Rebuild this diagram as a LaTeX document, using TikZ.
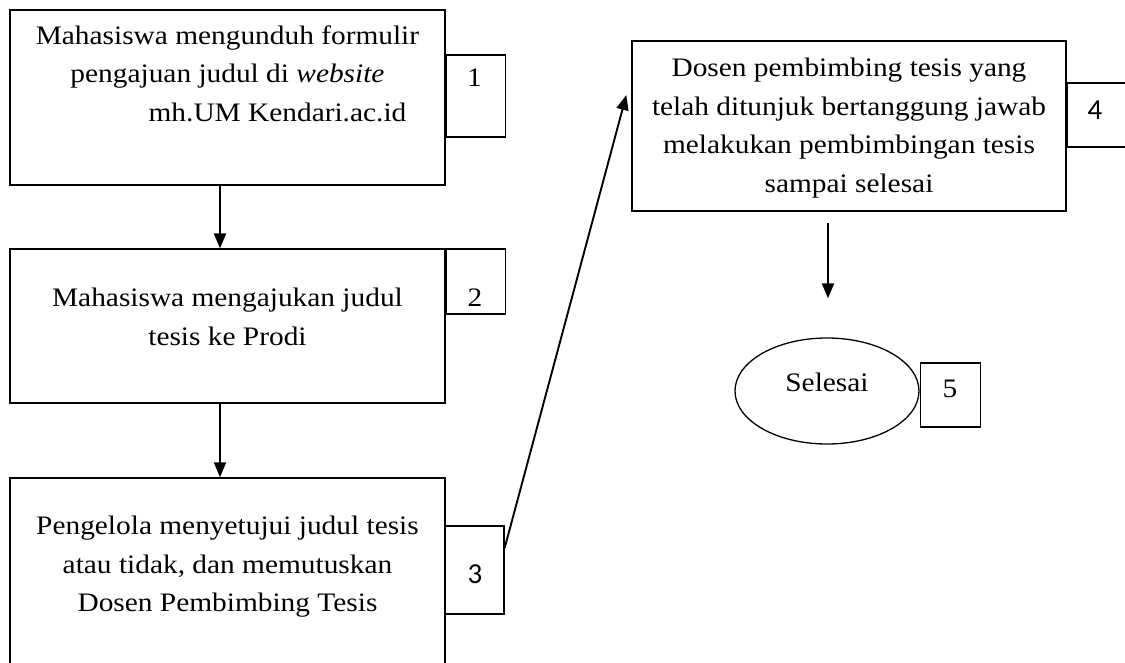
\documentclass[tikz,border=0pt]{standalone}
\usepackage{fontspec}
\setmainfont{Liberation Serif}[FakeStretch=1.1]
\newfontfamily\numfont{Carlito}
\usetikzlibrary{positioning,shapes.geometric,arrows.meta,calc}

\begin{document}
\begin{tikzpicture}[
        x=1pt, y=-1pt,
        font=\fontsize{26.7}{38.5}\selectfont,
        stepbox/.style={draw, line width=1.3pt, minimum width=435pt, inner sep=0pt},
        numbox/.style={draw, line width=1.3pt, minimum width=59pt, inner sep=0pt},
        txt/.style={align=center, inner sep=0pt, anchor=north},
        sansnum/.style={inner sep=0pt, font=\numfont\fontsize{29}{32}\selectfont},
        arr/.style={-{Triangle[length=15pt,width=12pt]}, line width=1.9pt},
    ]
        \clip (0,0) rectangle (1125,662);

        \node[stepbox, minimum height=175pt] (b1) at (227.5,97.5) {};
        \node[txt] (t1) at (227.5,25) {Mahasiswa mengunduh formulir\\
            pengajuan judul di \textit{website}\\
            \hspace*{100pt}mh.UM Kendari.ac.id};
        \node[numbox, minimum height=82pt, right=0pt of b1, yshift=1.5pt] (n1) {};
        \node[inner sep=0pt] (d1) at (474.5,78) {1};

        \node[stepbox, minimum height=154pt] (b2) at (227.5,326) {};
        \node[txt] (t2) at (227.5,288) {Mahasiswa mengajukan judul\\ tesis ke Prodi};
        \node[numbox, minimum height=65pt, anchor=north west] (n2) at (b2.north east) {};
        \node[inner sep=0pt] (d2) at (475,298) {2};

        \node[stepbox, minimum height=222pt] (b3) at (227.5,589) {};
        \node[txt] (t3) at (227.5,516) {Pengelola menyetujui judul tesis\\
            atau tidak, dan memutuskan\\ Dosen Pembimbing Tesis};
        \node[numbox, minimum height=88pt] (n3) at (474.5,570) {};
        \node[sansnum] (d3) at (475,574) {3};

        \node[stepbox, minimum width=434pt, minimum height=170pt] (b4) at (849,126) {};
        \node[txt] (t4) at (849,58) {Dosen pembimbing tesis yang\\
            telah ditunjuk bertanggung jawab\\
            melakukan pembimbingan tesis\\ sampai selesai};
        \node[numbox, minimum width=84pt, minimum height=64pt, anchor=west] (n4) at (b4.east |- 0,115) {};
        \node[sansnum] (d4) at (1095,110) {4};

        \node[ellipse, draw, line width=1.3pt, minimum width=184pt, minimum height=106pt,
            inner sep=0pt, text height=0.7em, text depth=0.7em] (end) at (827,391) {Selesai};
        \node[numbox, minimum width=60pt, minimum height=64pt, right=0pt of end, yshift=-4pt] (n5) {};
        \node[inner sep=0pt] (d5) at (950,389) {5};

        \coordinate (down4) at (828,223);

        \draw[arr] ([xshift=-7.5pt]b1.south) -- ([xshift=-7.5pt]b2.north);
        \draw[arr] ([xshift=-7.5pt]b2.south) -- ([xshift=-7.5pt]b3.north);
        \draw[arr] ([yshift=22pt]n3.east) -- ([xshift=-5pt,yshift=31pt]b4.west);
        \draw[arr] (down4) -- ([yshift=39pt]end.north -| down4);
    \end{tikzpicture}
\end{document}
